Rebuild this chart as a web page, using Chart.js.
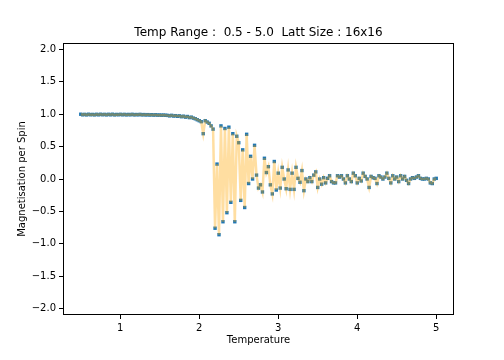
<!DOCTYPE html>
<html>
<head>
<meta charset="utf-8">
<script src="https://cdn.jsdelivr.net/npm/chart.js@4/dist/chart.umd.min.js"></script>
<style>
  html, body { margin: 0; padding: 0; background: #fff; }
  #wrap { width: 504px; height: 360px; }
</style>
</head>
<body>
<div id="wrap"><canvas id="magChart" width="504" height="360"></canvas></div>
<script>
const chartTitle = 'Temp Range :  0.5 - 5.0  Latt Size : 16x16';
const xLabel = 'Temperature';
const yLabel = 'Magnetisation per Spin';

const temperature = [
  0.500, 0.525, 0.550, 0.575, 0.600, 0.625, 0.650, 0.675,
  0.700, 0.725, 0.750, 0.775, 0.800, 0.825, 0.850, 0.875,
  0.900, 0.925, 0.950, 0.975, 1.000, 1.025, 1.050, 1.075,
  1.100, 1.125, 1.150, 1.175, 1.200, 1.225, 1.250, 1.275,
  1.300, 1.325, 1.350, 1.375, 1.400, 1.425, 1.450, 1.475,
  1.500, 1.525, 1.550, 1.575, 1.600, 1.625, 1.650, 1.675,
  1.700, 1.725, 1.750, 1.775, 1.800, 1.825, 1.850, 1.875,
  1.900, 1.925, 1.950, 1.975, 2.000, 2.025, 2.050, 2.075,
  2.100, 2.125, 2.150, 2.175, 2.200, 2.225, 2.250, 2.275,
  2.300, 2.325, 2.350, 2.375, 2.400, 2.425, 2.450, 2.475,
  2.500, 2.525, 2.550, 2.575, 2.600, 2.625, 2.650, 2.675,
  2.700, 2.725, 2.750, 2.775, 2.800, 2.825, 2.850, 2.875,
  2.900, 2.925, 2.950, 2.975, 3.000, 3.025, 3.050, 3.075,
  3.100, 3.125, 3.150, 3.175, 3.200, 3.225, 3.250, 3.275,
  3.300, 3.325, 3.350, 3.375, 3.400, 3.425, 3.450, 3.475,
  3.500, 3.525, 3.550, 3.575, 3.600, 3.625, 3.650, 3.675,
  3.700, 3.725, 3.750, 3.775, 3.800, 3.825, 3.850, 3.875,
  3.900, 3.925, 3.950, 3.975, 4.000, 4.025, 4.050, 4.075,
  4.100, 4.125, 4.150, 4.175, 4.200, 4.225, 4.250, 4.275,
  4.300, 4.325, 4.350, 4.375, 4.400, 4.425, 4.450, 4.475,
  4.500, 4.525, 4.550, 4.575, 4.600, 4.625, 4.650, 4.675,
  4.700, 4.725, 4.750, 4.775, 4.800, 4.825, 4.850, 4.875,
  4.900, 4.925, 4.950, 4.975, 5.000
];

const magnetisation = [
  1.000, 0.991, 0.998, 0.990, 1.000, 0.992, 0.997, 0.990,
  0.999, 0.991, 1.000, 0.992, 0.998, 0.990, 0.999, 0.991,
  1.000, 0.990, 0.997, 0.992, 0.999, 0.991, 0.998, 0.990,
  0.997, 0.991, 0.999, 0.990, 0.996, 0.991, 0.998, 0.990,
  0.995, 0.989, 0.994, 0.988, 0.993, 0.987, 0.992, 0.986,
  0.988, 0.985, 0.987, 0.984, 0.982, 0.975, 0.983, 0.972,
  0.978, 0.968, 0.975, 0.962, 0.970, 0.955, 0.965, 0.948,
  0.955, 0.940, 0.930, 0.915, 0.900, 0.885, 0.700, 0.900,
  0.880, 0.860, 0.820, 0.770, -0.760, 0.230, -0.860, 0.820,
  -0.660, 0.780, -0.520, 0.800, -0.360, 0.700, -0.660, 0.660,
  0.560, -0.330, 0.450, -0.440, 0.690, -0.070, 0.350, 0.000,
  0.520, 0.060, -0.140, -0.090, -0.200, 0.320, 0.100, 0.190,
  -0.090, -0.230, 0.270, -0.170, 0.090, -0.140, 0.180, 0.000,
  -0.150, 0.140, -0.160, 0.090, -0.160, 0.180, 0.010, -0.050,
  0.130, -0.180, 0.000, -0.040, 0.020, -0.040, 0.060, 0.110,
  -0.130, 0.000, -0.080, 0.020, -0.060, 0.010, 0.050, -0.040,
  -0.060, -0.060, 0.050, 0.030, 0.050, 0.000, -0.060, 0.050,
  0.000, -0.040, 0.090, 0.050, -0.060, 0.010, -0.030, 0.090,
  0.040, 0.000, -0.130, 0.040, 0.020, 0.010, -0.070, 0.050,
  0.030, 0.000, 0.030, 0.090, 0.010, -0.060, 0.050, 0.000,
  0.030, -0.040, 0.050, 0.000, 0.040, -0.020, -0.070, 0.000,
  0.020, 0.010, 0.030, 0.050, 0.010, 0.000, 0.000, 0.010,
  0.000, -0.060, -0.070, 0.000, 0.010
];

const xTicks = [1, 2, 3, 4, 5];
const yTicks = [-2.0, -1.5, -1.0, -0.5, 0.0, 0.5, 1.0, 1.5, 2.0];

const points = temperature.map((t, i) => ({ x: t, y: magnetisation[i] }));

const FONT = 'DejaVu Sans, Liberation Sans, sans-serif';

// matplotlib draws a box on all four sides
const framePlugin = {
  id: 'frame',
  afterDraw(chart) {
    const { ctx, chartArea: a } = chart;
    ctx.save();
    ctx.strokeStyle = '#000';
    ctx.lineWidth = 1;
    ctx.strokeRect(Math.round(a.left) + 0.5, Math.round(a.top) + 0.5,
      Math.round(a.right - a.left) - 1, Math.round(a.bottom - a.top) - 1);
    ctx.restore();
  }
};

const fmtMinus = v => (v < 0 ? '\u2212' : '') + Math.abs(v).toFixed(1);

new Chart(document.getElementById('magChart'), {
  type: 'scatter',
  data: {
    datasets: [
      {
        label: 'line',
        data: points,
        showLine: true,
        borderColor: 'rgba(255,165,0,0.37)',
        borderWidth: 2.5,
        pointRadius: 0,
        tension: 0
      },
      {
        label: 'points',
        data: points,
        showLine: false,
        pointStyle: 'rect',
        pointRadius: 2.4,
        pointBorderWidth: 0,
        pointBackgroundColor: '#1f77b4',
        pointBorderColor: '#1f77b4'
      }
    ]
  },
  options: {
    responsive: false,
    animation: false,
    devicePixelRatio: 1,
    layout: { padding: { left: 0, right: 50, top: 0, bottom: 0 } },
    plugins: {
      legend: { display: false },
      tooltip: { enabled: false },
      title: {
        display: true,
        text: chartTitle,
        fullSize: false,
        color: '#000',
        font: { family: FONT, size: 12, weight: 'normal', lineHeight: 1.2 },
        padding: { top: 26, bottom: 2.6 }
      }
    },
    scales: {
      x: {
        type: 'linear',
        min: 0.275,
        max: 5.225,
        afterFit: s => { s.height = 45; },
        afterBuildTicks: s => { s.ticks = xTicks.map(v => ({ value: v })); },
        border: { display: false },
        grid: { display: true, drawOnChartArea: false, drawTicks: true, tickLength: 4, color: '#000', lineWidth: 1 },
        ticks: {
          color: '#000', padding: 3, maxRotation: 0,
          font: { family: FONT, size: 10 },
          callback: v => String(v)
        },
        title: {
          display: true, text: xLabel, color: '#000',
          font: { family: FONT, size: 10 },
          padding: { top: 0, bottom: 14 }
        }
      },
      y: {
        type: 'linear',
        min: -2.1,
        max: 2.1,
        afterFit: s => { s.width = 63; },
        afterBuildTicks: s => { s.ticks = yTicks.map(v => ({ value: v })); },
        border: { display: false },
        grid: { display: true, drawOnChartArea: false, drawTicks: true, tickLength: 4, color: '#000', lineWidth: 1 },
        ticks: {
          color: '#000', padding: 3,
          font: { family: FONT, size: 10 },
          callback: v => fmtMinus(v)
        },
        title: {
          display: true, text: yLabel, color: '#000',
          font: { family: FONT, size: 10 },
          padding: { top: 16, bottom: 0 }
        }
      }
    }
  },
  plugins: [framePlugin]
});
</script>
</body>
</html>
